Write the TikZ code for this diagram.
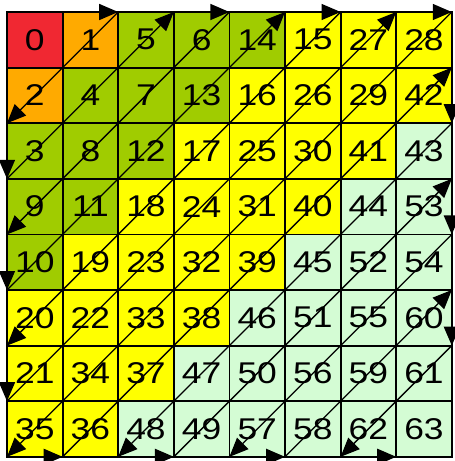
\documentclass[tikz,border=0pt]{standalone}
\usepackage{fontspec}
\setmainfont{Liberation Sans}[FakeStretch=1.18]
\usetikzlibrary{arrows.meta}
\definecolor{cred}{RGB}{240,40,50}
\definecolor{corange}{RGB}{255,170,0}
\definecolor{cgreen}{RGB}{160,204,0}
\definecolor{cyellow}{RGB}{255,255,0}
\definecolor{clight}{RGB}{212,252,212}
\tikzset{
  cell/.style={draw=black, line width=1.8pt, minimum width=55.6pt, minimum height=55.6pt,
    inner sep=0pt, font=\fontsize{30}{30}\selectfont},
  zz/.style={line width=1.3pt, arrows={-Triangle[length=19pt,width=16pt]}}
}
\begin{document}
\begin{tikzpicture}[x=1pt,y=1pt]
\useasboundingbox (0,0) rectangle (455,-461);
\begin{scope}[shift={(7,-12)}, x=55.6pt, y=-55.6pt]
\foreach \n [count=\k from 0] in {0,1,5,6,14,15,27,28, 2,4,7,13,16,26,29,42,
  3,8,12,17,25,30,41,43, 9,11,18,24,31,40,44,53, 10,19,23,32,39,45,52,54,
  20,22,33,38,46,51,55,60, 21,34,37,47,50,56,59,61, 35,36,48,49,57,58,62,63} {
  \pgfmathtruncatemacro\c{mod(\k,8)}
  \pgfmathtruncatemacro\r{div(\k,8)}
  \ifnum\n=0 \def\col{cred}\else\ifnum\n<3 \def\col{corange}\else\ifnum\n<15 \def\col{cgreen}\else\ifnum\n<43 \def\col{cyellow}\else\def\col{clight}\fi\fi\fi\fi
  \node[cell, fill=\col] (c\n) at (\c+0.5,\r+0.5) {\n};
}
\foreach \i in {0,...,8} {
  \foreach \j in {0,...,8} {
    \coordinate (p\i-\j) at (\i,\j);
  }
}
\foreach \a/\b in {1-0/2-0, 2-0/0-2, 0-2/0-3, 0-3/3-0, 3-0/4-0, 4-0/0-4, 0-4/0-5,
  0-5/5-0, 5-0/6-0, 6-0/0-6, 0-6/0-7, 0-7/7-0, 7-0/8-0, 8-0/0-8, 0-8/1-8,
  1-8/8-1, 8-1/8-2, 8-2/2-8, 2-8/3-8, 3-8/8-3, 8-3/8-4, 8-4/4-8, 4-8/5-8,
  5-8/8-5, 8-5/8-6, 8-6/6-8, 6-8/7-8} {
  \draw[zz] (p\a) -- (p\b);
}
\end{scope}
\end{tikzpicture}
\end{document}
